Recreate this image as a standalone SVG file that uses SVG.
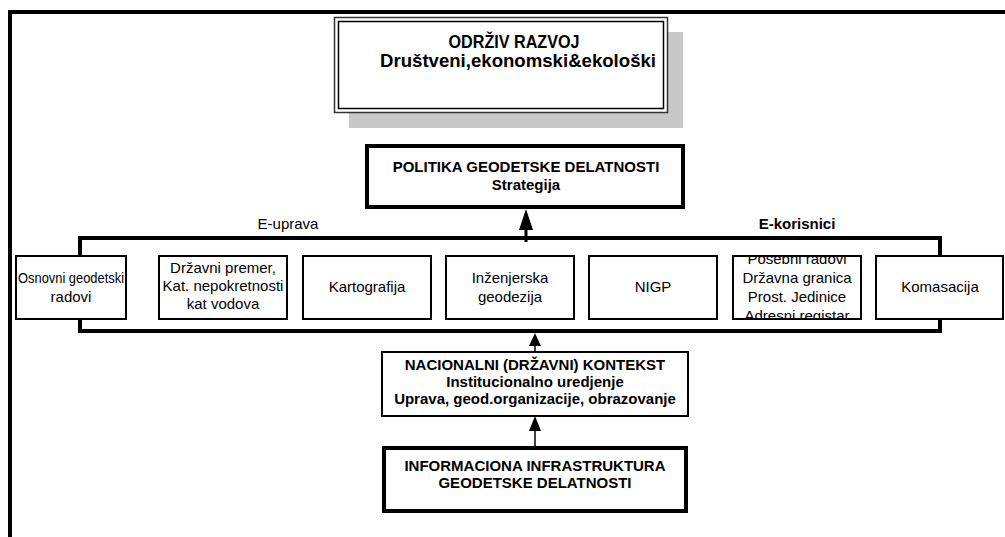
<svg xmlns="http://www.w3.org/2000/svg" width="1005" height="537" viewBox="0 0 1005 537">
<style>
.t{font-family:"Liberation Sans",Arial,sans-serif;font-size:15px;fill:#000;text-anchor:middle}
.b{font-weight:bold}
.box{fill:#fff;stroke:#000;stroke-width:2}
.thick{fill:#fff;stroke:#000;stroke-width:4}
.bus{fill:none;stroke:#000;stroke-width:4}
</style>
<defs>
<clipPath id="c6"><rect x="734" y="257" width="126" height="61"/></clipPath>
</defs>
<rect width="1005" height="537" fill="#fff"/>
<path d="M10,537 V12 H1005" fill="none" stroke="#000" stroke-width="4"/>

<g id="odrziv">
<rect x="349" y="32" width="334" height="96" fill="#c8c8c8"/>
<rect x="334.5" y="17.5" width="333" height="95" fill="#fff" stroke="#333" stroke-width="1.5"/>
<rect x="338.5" y="21.5" width="325" height="87" fill="none" stroke="#000" stroke-width="1.5"/>
<text class="t b" x="514" y="48" style="font-size:18px" textLength="131" lengthAdjust="spacingAndGlyphs">ODRŽIV RAZVOJ</text>
<text class="t b" x="518" y="67" style="font-size:18.5px" textLength="276" lengthAdjust="spacingAndGlyphs">Društveni,ekonomski&amp;ekološki</text>
</g>

<g id="politika">
<rect class="thick" x="367" y="146" width="316" height="61"/>
<text class="t b" x="526" y="172">POLITIKA GEODETSKE DELATNOSTI</text>
<text class="t b" x="526" y="190">Strategija</text>
</g>

<g id="connectors">
<path class="bus" d="M80,256 V238 H940 V256"/>
<path class="bus" d="M80,319 V331 H940 V319"/>
<line x1="526" y1="242" x2="526" y2="226" stroke="#000" stroke-width="3"/>
<polygon points="526,209 519,230 533,230" fill="#000"/>
<line x1="535" y1="352" x2="535" y2="343" stroke="#000" stroke-width="1.5"/>
<polygon points="535,333 529,346 541,346" fill="#000"/>
<line x1="535" y1="446" x2="535" y2="428" stroke="#000" stroke-width="1.5"/>
<polygon points="535,416 529,431 541,431" fill="#000"/>
</g>

<text class="t" x="288" y="229">E-uprava</text>
<text class="t b" x="797" y="229">E-korisnici</text>

<g id="box1">
<rect class="box" x="16" y="256" width="110" height="63"/>
<text class="t" x="71" y="283" textLength="106" lengthAdjust="spacingAndGlyphs">Osnovni geodetski</text>
<text class="t" x="71" y="302">radovi</text>
</g>
<g id="box2">
<rect class="box" x="159" y="256" width="128" height="63"/>
<text class="t" x="223" y="273">Državni premer,</text>
<text class="t" x="223" y="291">Kat. nepokretnosti</text>
<text class="t" x="223" y="309">kat vodova</text>
</g>
<g id="box3">
<rect class="box" x="303" y="256" width="128" height="63"/>
<text class="t" x="367" y="292">Kartografija</text>
</g>
<g id="box4">
<rect class="box" x="446" y="256" width="128" height="63"/>
<text class="t" x="510" y="283">Inženjerska</text>
<text class="t" x="510" y="302">geodezija</text>
</g>
<g id="box5">
<rect class="box" x="589" y="256" width="128" height="63"/>
<text class="t" x="653" y="292">NIGP</text>
</g>
<g id="box6">
<rect class="box" x="733" y="256" width="128" height="63"/>
<g clip-path="url(#c6)">
<text class="t" x="797" y="264">Posebni radovi</text>
<text class="t" x="797" y="283">Državna granica</text>
<text class="t" x="797" y="302">Prost. Jedinice</text>
<text class="t" x="797" y="321">Adresni registar</text>
</g>
</g>
<g id="box7">
<rect class="box" x="876" y="256" width="127" height="63"/>
<text class="t" x="940" y="292">Komasacija</text>
</g>

<g id="nacionalni">
<rect class="box" x="382" y="352" width="306" height="64"/>
<text class="t b" x="535" y="370">NACIONALNI (DRŽAVNI) KONTEKST</text>
<text class="t b" x="535" y="387">Institucionalno uredjenje</text>
<text class="t b" x="535" y="404">Uprava, geod.organizacije, obrazovanje</text>
</g>

<g id="informaciona">
<rect class="thick" x="384" y="448" width="302" height="63"/>
<text class="t b" x="535" y="471">INFORMACIONA INFRASTRUKTURA</text>
<text class="t b" x="535" y="488">GEODETSKE DELATNOSTI</text>
</g>
</svg>
